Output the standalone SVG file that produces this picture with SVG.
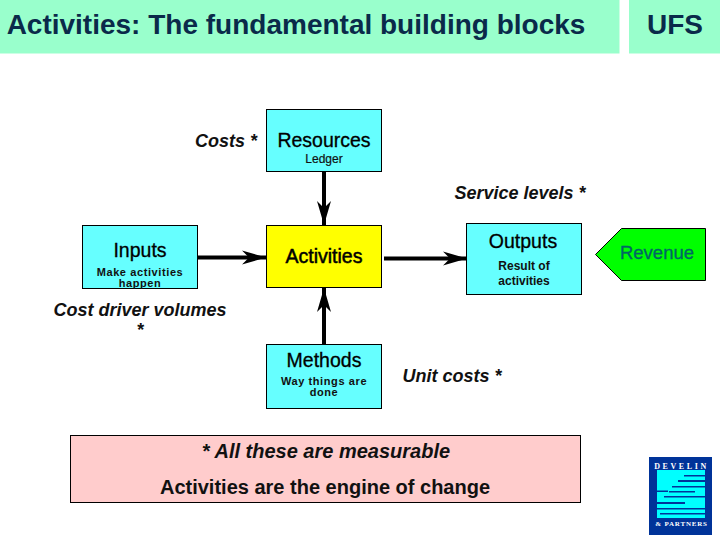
<svg xmlns="http://www.w3.org/2000/svg" width="720" height="540" viewBox="0 0 720 540">
<style>
text{font-family:"Liberation Sans",Arial,sans-serif;fill:#000;text-anchor:middle}
.box{stroke:#000;stroke-width:1}
.c{fill:#66FFFF}
.t{font-size:19.500px;stroke:#000;stroke-width:.3px}
.s{font-size:12px;font-weight:bold;fill:#111}
.s2{font-size:11px;font-weight:bold;fill:#111;letter-spacing:.6px}
.i{font-size:18px;font-style:italic;font-weight:bold;fill:#111}
.h{font-size:28px;font-weight:bold;fill:#0a2a4a}
.n{font-size:20px;font-weight:bold;fill:#111}
.conn{fill:none;stroke:#000;stroke-width:4}
.lg{fill:#00FFFF}
.ld{fill:#003399}
</style>
<defs>
<marker id="arr" viewBox="0 0 24 16" refX="24" refY="8" markerUnits="userSpaceOnUse" markerWidth="24" markerHeight="16" orient="auto"><path d="M0 1 L24 8 L0 15 L7 8 Z" fill="#000"/></marker>
</defs>
<rect width="720" height="540" fill="#fff"/>
<g id="header"><rect x="0" y="0" width="619.500" height="53.500" fill="#99FFCC"/><text x="296" y="34" class="h">Activities: The fundamental building blocks</text></g>
<g id="ufs"><rect x="629" y="0" width="91" height="53.500" fill="#99FFCC"/><text x="675" y="34" class="h">UFS</text></g>
<g id="connectors">
<path class="conn" d="M324 171V225" marker-end="url(#arr)"/>
<path class="conn" d="M197 257.500H266" marker-end="url(#arr)"/>
<path class="conn" d="M384 258.500H467" marker-end="url(#arr)"/>
<path class="conn" d="M324 344V288" marker-end="url(#arr)"/>
</g>
<g id="resources"><rect class="box c" x="266.500" y="109.500" width="115" height="62"/><text x="324" y="147" class="t">Resources</text><text x="324" y="163" class="s" style="font-weight:normal;stroke:#111;stroke-width:.2px">Ledger</text></g>
<g id="inputs"><rect class="box c" x="82.500" y="225.500" width="115" height="63"/><text x="140" y="256.500" class="t">Inputs</text><text x="140" y="275.500" class="s2">Make activities</text><text x="140" y="287" class="s2">happen</text></g>
<g id="activities"><rect class="box" fill="#FFFF00" x="266.500" y="225.500" width="115" height="62"/><text x="324" y="263" class="t" style="stroke-width:.5px">Activities</text></g>
<g id="outputs"><rect class="box c" x="466.500" y="223.500" width="115" height="71"/><text x="523" y="247.500" class="t">Outputs</text><text x="524" y="270" class="s">Result of</text><text x="524" y="285" class="s">activities</text></g>
<g id="revenue"><path class="box" fill="#00FF00" d="M595.500 254.500L621.500 228.500H705.500V280.500H621.500Z"/><text x="657" y="258.500" class="t" style="font-size:18.500px;fill:#006666;stroke:#006666">Revenue</text></g>
<g id="methods"><rect class="box c" x="266.500" y="344.500" width="115" height="64"/><text x="324" y="366.500" class="t">Methods</text><text x="324" y="385" class="s2">Way things are</text><text x="324" y="396" class="s2">done</text></g>
<g id="costs"><text x="226" y="146.500" class="i">Costs *</text></g>
<g id="service"><text x="520" y="198.500" class="i">Service levels *</text></g>
<g id="driver"><text x="140" y="315.500" class="i">Cost driver volumes</text><text x="140" y="336" class="i">*</text></g>
<g id="unit"><text x="452" y="381.500" class="i">Unit costs *</text></g>
<g id="note"><rect class="box" fill="#FFCCCC" x="70.500" y="435.500" width="510" height="67"/><text x="326" y="457.500" class="n" style="font-style:italic">* All these are measurable</text><text x="325" y="493.500" class="n">Activities are the engine of change</text></g>
<g id="logo">
<rect class="ld" x="649" y="457" width="63" height="78"/>
<text x="681.500" y="469" style="font-family:'Liberation Serif',serif;font-size:8px;font-weight:bold;fill:#fff;letter-spacing:2.600px">DEVELIN</text>
<rect class="lg" x="657" y="470" width="48" height="48"/>
<path class="ld" d="M684 475H705V476.500H684ZM678 480H705V482H678ZM672 486H705V487.500H672ZM654 490.500H668V492H654ZM669 491H695V492.500H669ZM664 496H705V497.500H664ZM657 502H685V504H657ZM657 508H705V509.500H657ZM660 513H705V514.500H660Z"/>
<text x="681.500" y="526" style="font-family:'Liberation Serif',serif;font-size:7px;font-weight:bold;fill:#fff;letter-spacing:.8px">&amp; PARTNERS</text>
</g>
</svg>
